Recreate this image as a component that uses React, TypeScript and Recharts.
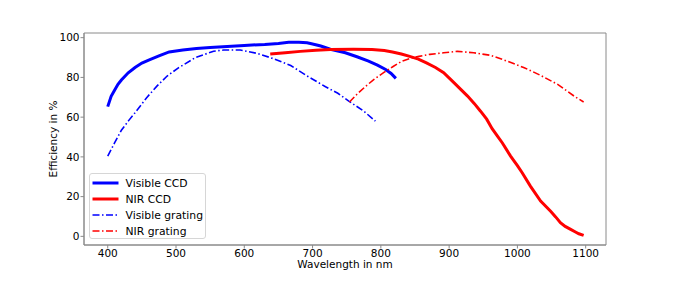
import React from "react";
import { LineChart, Line, XAxis, YAxis, Legend, Label, ReferenceArea } from "recharts";

// ---- data ----
const visibleCcdWl = [400, 405, 410, 415, 420, 430, 440, 450, 460, 475, 490, 510, 530, 550, 575, 600, 630, 650, 665, 680, 692, 700, 712, 726, 748, 765, 782, 795, 807, 815, 822];
const visibleCcdEff = [65.3, 70.5, 73.5, 76.5, 78.7, 82.3, 85, 87.2, 88.7, 90.8, 92.8, 93.8, 94.6, 95, 95.6, 96.1, 96.6, 97.1, 97.7, 97.7, 97.4, 96.8, 95.8, 94.2, 92.4, 90.4, 88.2, 86.2, 84, 82, 79.5];

const nirCcdWl = [638, 660, 682, 705, 726, 760, 787, 805, 817, 830, 841, 855, 866, 880, 892, 907, 917, 927, 937, 946, 955, 963, 970, 978, 990, 1000, 1007, 1019, 1034, 1049, 1056, 1063, 1070, 1078, 1085, 1090, 1097];
const nirCcdEff = [91.8, 92.4, 93.1, 93.7, 94.1, 94.2, 94.1, 93.5, 92.8, 91.8, 90.7, 89.2, 87.4, 85, 82.4, 77.4, 74, 70.6, 66.8, 63, 59, 54.2, 50.8, 47, 40.4, 35.6, 32, 25.3, 17.8, 12.5, 9.8, 6.9, 5, 3.5, 2.2, 1.3, 0.5];

const visibleGratingWl = [400, 410, 420, 430, 440, 457, 472, 487, 504, 528, 555, 570, 594, 619, 643, 668, 692, 719, 737, 753, 775, 792];
const visibleGratingEff = [40.4, 47, 53.4, 58, 62.2, 69.8, 75.6, 80.7, 84.9, 89.9, 93.2, 93.8, 93.8, 92.1, 89.4, 86, 80.7, 75.3, 72, 68.1, 63, 58];

const nirGratingWl = [754, 765, 778, 790, 804, 818, 831, 845, 856, 872, 892, 912, 936, 961, 985, 1010, 1034, 1059, 1083, 1097];
const nirGratingEff = [67.6, 71.5, 75.6, 79, 82.4, 85.5, 88.2, 89.8, 90.6, 91.6, 92.4, 93.1, 92.4, 91.1, 88.2, 84.9, 81, 76.5, 70.6, 67.6];

const xTicks = [400, 500, 600, 700, 800, 900, 1000, 1100];
const yTicks = [0, 20, 40, 60, 80, 100];
const xDomain = [365.25, 1129.75];
const yDomain = [-4.35, 102.35];

const zip = (wl: number[], eff: number[]) => wl.map((w, i) => ({ wl: w, eff: eff[i] }));

const series = [
  { name: "Visible CCD", data: zip(visibleCcdWl, visibleCcdEff), color: "#0000ff", width: 3, dash: undefined as string | undefined },
  { name: "NIR CCD", data: zip(nirCcdWl, nirCcdEff), color: "#ff0000", width: 3, dash: undefined as string | undefined },
  { name: "Visible grating", data: zip(visibleGratingWl, visibleGratingEff), color: "#0000ff", width: 1.6, dash: "7 2.5 1.5 2.5" },
  { name: "NIR grating", data: zip(nirGratingWl, nirGratingEff), color: "#ff0000", width: 1.6, dash: "7 2.5 1.5 2.5" },
];

const FONT = "'DejaVu Sans', sans-serif";
const FRAME = "#8a8a8a";
const tickStyle = { fontSize: 10.5, fill: "#000", fontFamily: FONT };

const renderLegend = () => (
  <div
    style={{
      width: 117,
      height: 66,
      border: "1px solid #d6d6d6",
      borderRadius: 3,
      background: "rgba(255,255,255,0.8)",
      boxSizing: "border-box",
      paddingTop: 1,
      fontFamily: FONT,
      fontSize: 10.8,
    }}
  >
    {series.map((s) => (
      <div key={s.name} style={{ height: 16, display: "flex", alignItems: "center", whiteSpace: "nowrap" }}>
        <svg width={34} height={16} style={{ flex: "none" }}>
          <line x1={2.5} x2={28.5} y1={8} y2={8} stroke={s.color} strokeWidth={s.width} strokeDasharray={s.dash} />
        </svg>
        <span style={{ marginLeft: 1.5 }}>{s.name}</span>
      </div>
    ))}
  </div>
);

export default function App() {
  return (
    <div style={{ position: "absolute", left: 0, top: 0, width: 674, height: 281, background: "#fff" }}>
      <LineChart width={674} height={281} margin={{ top: 33, right: 68, bottom: 6, left: 44 }}>
        <XAxis
          dataKey="wl"
          type="number"
          domain={xDomain}
          ticks={xTicks}
          allowDataOverflow
          height={30}
          stroke={FRAME}
          tickSize={3.5}
          tickMargin={1}
          tick={tickStyle}
          interval={0}
        >
          <Label
            content={({ viewBox }: any) => (
              <text
                x={viewBox.x + viewBox.width / 2}
                y={viewBox.y + 23}
                textAnchor="middle"
                style={{ fontSize: 10.5, fontFamily: FONT, fill: "#000" }}
              >
                Wavelength in nm
              </text>
            )}
          />
        </XAxis>
        <YAxis
          type="number"
          domain={yDomain}
          ticks={yTicks}
          allowDataOverflow
          width={40}
          stroke={FRAME}
          tickSize={3.5}
          tickMargin={1}
          tick={tickStyle}
          interval={0}
        >
          <Label
            content={({ viewBox }: any) => {
              const cx = viewBox.x + 9;
              const cy = viewBox.y + viewBox.height / 2;
              return (
                <text
                  x={cx}
                  y={cy}
                  textAnchor="middle"
                  dominantBaseline="central"
                  transform={`rotate(-90 ${cx} ${cy})`}
                  style={{ fontSize: 10.5, fontFamily: FONT, fill: "#000" }}
                >
                  Efficiency in %
                </text>
              );
            }}
          />
        </YAxis>
        <ReferenceArea
          x1={xDomain[0]}
          x2={xDomain[1]}
          y1={yDomain[0]}
          y2={yDomain[1]}
          fill="none"
          fillOpacity={0}
          stroke={FRAME}
          strokeWidth={1}
          ifOverflow="visible"
        />
        <Legend
          layout="vertical"
          align="center"
          verticalAlign="middle"
          content={renderLegend}
          wrapperStyle={{ position: "absolute", left: 89, top: 173, width: "auto", height: "auto" }}
        />
        {series.map((s) => (
          <Line
            key={s.name}
            name={s.name}
            data={s.data}
            dataKey="eff"
            type="linear"
            stroke={s.color}
            strokeWidth={s.width}
            strokeDasharray={s.dash}
            dot={false}
            activeDot={false}
            isAnimationActive={false}
          />
        ))}
      </LineChart>
    </div>
  );
}
